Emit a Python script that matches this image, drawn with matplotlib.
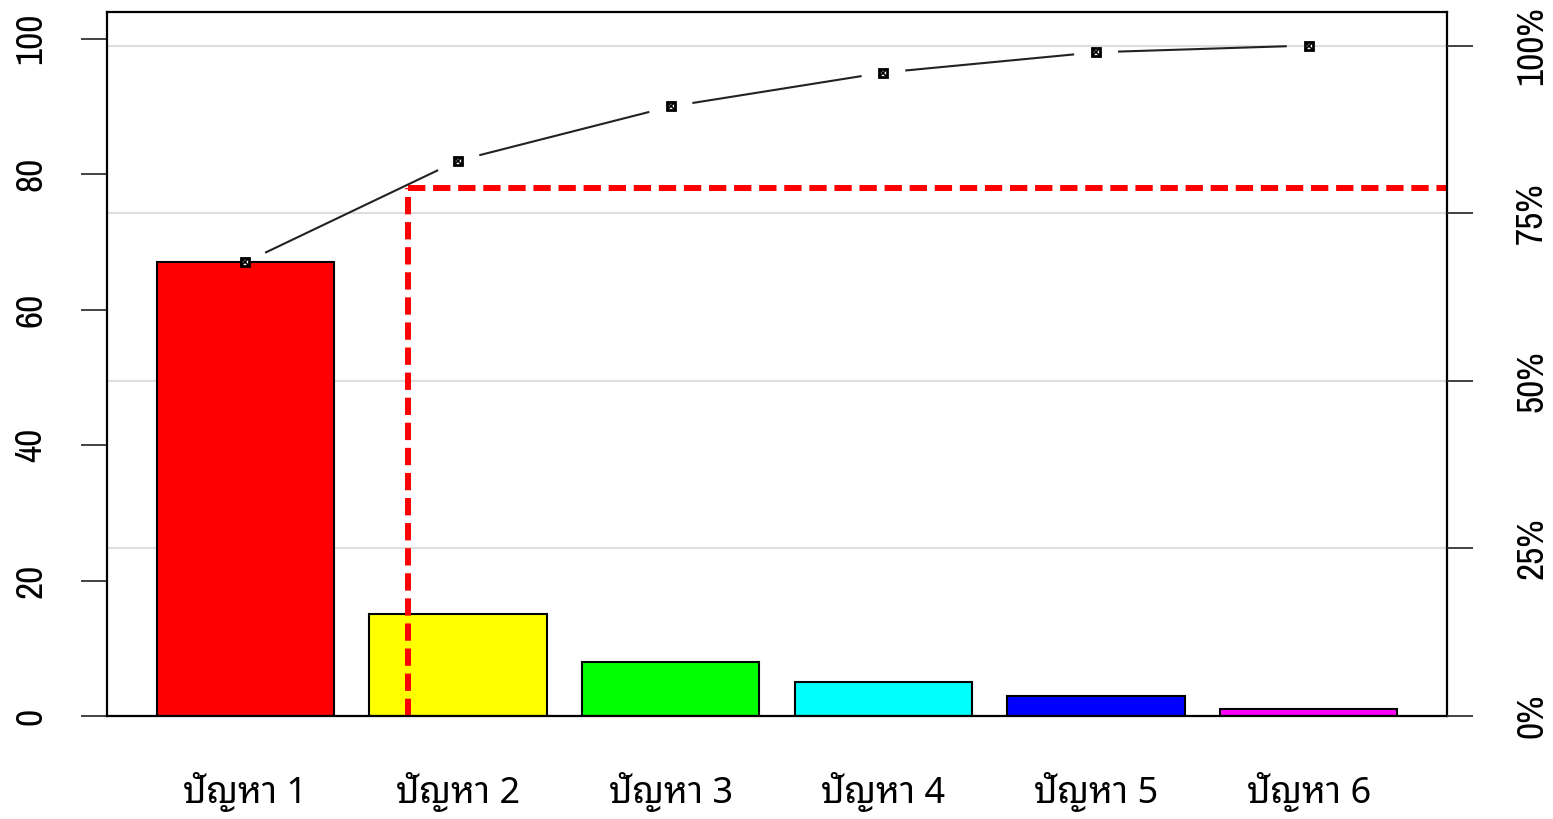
import matplotlib
matplotlib.use("Agg")
import matplotlib.pyplot as plt
import numpy as np

categories = ["ปัญหา 1", "ปัญหา 2", "ปัญหา 3", "ปัญหา 4", "ปัญหา 5", "ปัญหา 6"]
counts = [67, 15, 8, 5, 3, 1]
bar_colors = ["#FF0000", "#FFFF00", "#00FF00", "#00FFFF", "#0000FF", "#FF00FF"]
left_ticks = [0, 20, 40, 60, 80, 100]
pct_labels = ["0%", "25%", "50%", "75%", "100%"]
cut_x = 1.62   # vertical reference line position (bar units)
cut_y = 78     # horizontal reference line level (count units)

thai_fam = ["Noto Sans Thai Looped", "Noto Sans Thai", "Sarabun", "Noto Sans", "DejaVu Sans"]
num_fam = ["Liberation Sans Narrow", "Nimbus Sans Narrow", "Archivo Narrow", "Roboto Condensed", "DejaVu Sans"]

total = sum(counts)
cum = np.cumsum(counts)
n = len(counts)
x = 0.7 + 1.2 * np.arange(n)

W, H = 1553, 819
fig = plt.figure(figsize=(W / 100, H / 100), dpi=100)
ax = fig.add_axes([107 / W, 1 - 716 / H, (1447 - 107) / W, (716 - 12) / H])
xlim = (-0.08, 7.48)
ylim = (0, 1.05 * total)
ax.set_xlim(*xlim)
ax.set_ylim(*ylim)

# grid lines at percentage positions
pct_pos = [total * p for p in (0, 0.25, 0.5, 0.75, 1.0)]
for yp in pct_pos:
    ax.axhline(yp, color="#dedede", lw=1.5, zorder=0)

ax.bar(x, counts, width=1.0, color=bar_colors, edgecolor="black", linewidth=1.5, zorder=2)

# cumulative line with gaps near points (type "b")
pxu_x = (1447 - 107) / (xlim[1] - xlim[0])
pxu_y = (716 - 12) / (ylim[1] - ylim[0])
gap = 22.0
for i in range(n - 1):
    dxp = (x[i + 1] - x[i]) * pxu_x
    dyp = (cum[i + 1] - cum[i]) * pxu_y
    L = np.hypot(dxp, dyp)
    f = gap / L
    xs = [x[i] + f * (x[i + 1] - x[i]), x[i + 1] - f * (x[i + 1] - x[i])]
    ys = [cum[i] + f * (cum[i + 1] - cum[i]), cum[i + 1] - f * (cum[i + 1] - cum[i])]
    ax.plot(xs, ys, color="#222222", lw=1.5, zorder=4, solid_capstyle="butt")
ax.plot(x, cum, linestyle="none", marker="s", markersize=6, markerfacecolor="white",
        markeredgecolor="black", markeredgewidth=2, zorder=5)
ax.plot(x, cum, linestyle="none", marker="x", markersize=6, color="black",
        markeredgewidth=1.2, zorder=6)

# red dashed reference lines
ax.plot([cut_x, cut_x], [0, cut_y], color="red", lw=4.3, dashes=(2.9, 1.3), zorder=3,
        solid_capstyle="butt")
ax.plot([cut_x, xlim[1]], [cut_y, cut_y], color="red", lw=4.3, dashes=(2.9, 1.3), zorder=3)

for s in ax.spines.values():
    s.set_linewidth(1.6)
    s.set_color("black")
    s.set_zorder(7)

ax.set_xticks(x)
ax.set_xticklabels(categories, family=thai_fam, fontsize=26)
ax.tick_params(axis="x", length=0, pad=40)

ax.set_yticks(left_ticks)
ax.set_yticklabels([str(t) for t in left_ticks], family=num_fam, fontsize=27,
                   rotation=90, va="center")
ax.tick_params(axis="y", length=19, width=1.3, color="#333333", pad=24)

ax2 = ax.twinx()
ax2.set_ylim(*ylim)
ax2.set_yticks(pct_pos)
ax2.set_yticklabels(pct_labels, family=num_fam, fontsize=27, rotation=90, va="center")
ax2.tick_params(axis="y", length=19, width=1.3, color="#333333", pad=30)
for s in ax2.spines.values():
    s.set_visible(False)

fig.savefig("out.png", dpi=100)
